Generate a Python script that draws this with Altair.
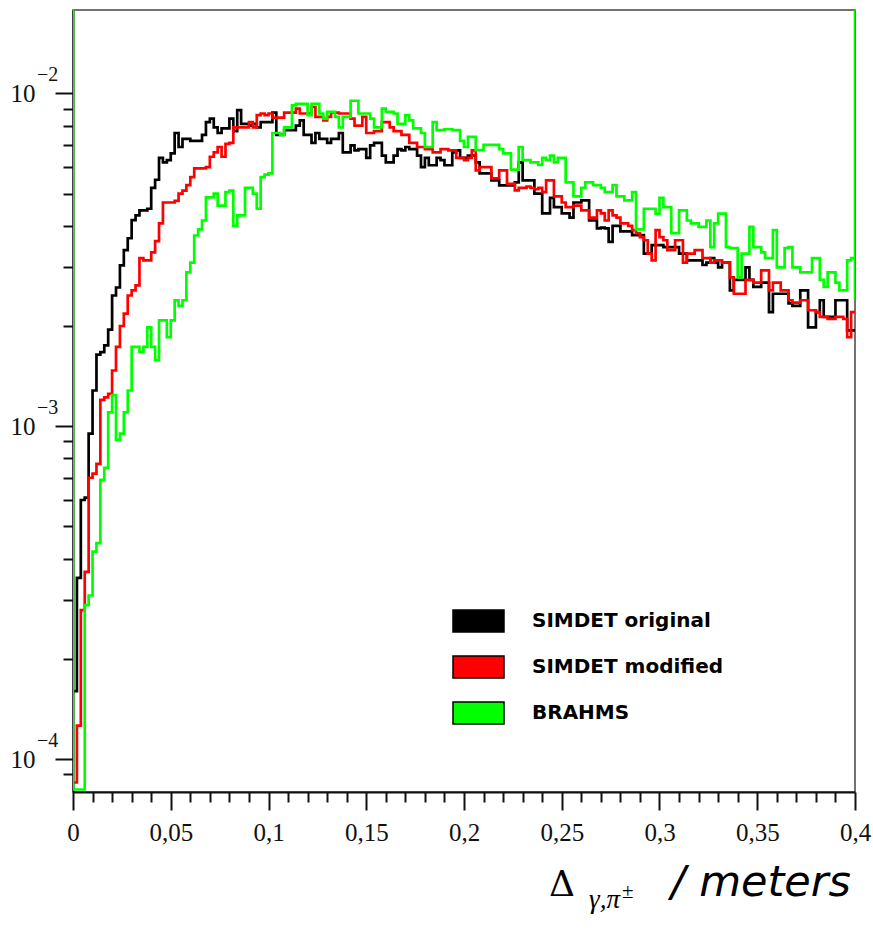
import altair as alt
import pandas as pd

# ---------------- data (values in units of 1e-3) ----------------
SERIES = ["SIMDET original", "SIMDET modified", "BRAHMS"]
COLORS = ["#000000", "#ff0000", "#00ff00"]

BIN_WIDTH = 0.002
X_MAX = 0.4
Y_MIN = 7.96e-5
Y_MAX = 1.78e-2

BLACK = [
    0.16, 0.35, 0.60, 0.61, 0.95, 1.28, 1.64, 1.67, 1.75, 1.95,
    2.47, 2.61, 3.04, 3.38, 3.67, 4.16, 4.30, 4.45, 4.45, 4.50,
    5.20, 5.50, 6.40, 6.20, 6.30, 6.60, 7.60, 6.90, 7.30, 7.30,
    7.20, 7.20, 7.20, 7.50, 8.20, 8.40, 7.90, 7.60, 7.85, 7.85,
    8.40, 7.70, 8.90, 8.10, 8.10, 8.00, 8.10, 7.90, 8.20, 8.20,
    8.20, 8.75, 7.50, 7.50, 7.75, 7.75, 7.75, 8.00, 8.30, 7.50,
    7.50, 7.10, 7.60, 7.30, 7.30, 7.10, 7.30, 7.30, 7.60, 6.65,
    6.65, 6.98, 6.74, 6.80, 6.80, 6.40, 6.98, 7.10, 7.10, 6.50,
    6.20, 6.20, 6.50, 6.80, 6.74, 6.90, 6.80, 6.80, 6.50, 6.00,
    6.40, 6.08, 6.08, 6.40, 6.30, 6.08, 6.08, 6.65, 6.74, 6.40,
    6.40, 6.50, 6.50, 6.20, 5.75, 5.75, 5.75, 5.48, 5.48, 5.29,
    5.29, 5.29, 5.29, 5.40, 6.20, 5.48, 5.48, 5.48, 5.00, 5.00,
    4.36, 4.36, 4.85, 4.55, 4.55, 4.36, 4.36, 4.23, 4.70, 4.70,
    4.77, 4.77, 4.15, 4.15, 3.93, 3.95, 3.93, 3.58, 4.00, 4.00,
    3.85, 3.85, 3.85, 3.75, 3.75, 3.75, 3.30, 3.30, 3.50, 3.50,
    3.50, 3.45, 3.45, 3.45, 3.45, 3.30, 3.30, 3.15, 3.15, 3.15,
    3.15, 3.05, 3.10, 3.20, 3.10, 3.00, 3.10, 3.10, 2.56, 2.75,
    2.75, 2.75, 3.00, 2.75, 2.62, 2.62, 2.70, 2.70, 2.20, 2.50,
    2.50, 2.50, 2.50, 2.34, 2.30, 2.30, 2.56, 2.56, 1.98, 1.98,
    2.20, 2.39, 2.13, 2.13, 2.13, 2.39, 2.39, 2.39, 1.94, 1.94,
]

RED = [
    0.085, 0.126, 0.28, 0.365, 0.70, 0.72, 0.77, 1.20, 1.22, 1.25,
    1.47, 1.73, 2.00, 2.18, 2.47, 2.56, 2.65, 3.20, 3.15, 3.15,
    3.33, 3.60, 4.07, 4.70, 4.70, 4.70, 4.75, 5.00, 5.10, 5.30,
    5.60, 5.95, 5.95, 5.95, 6.00, 6.45, 6.65, 6.90, 6.45, 7.05,
    7.10, 7.90, 7.90, 7.90, 7.90, 8.20, 7.90, 8.60, 8.70, 8.60,
    8.70, 8.45, 8.45, 8.45, 8.75, 8.75, 8.75, 9.00, 8.70, 8.70,
    8.70, 9.10, 8.50, 8.50, 8.30, 8.50, 8.75, 8.75, 8.70, 8.70,
    8.70, 8.40, 8.00, 8.00, 8.50, 7.60, 7.60, 7.70, 7.70, 8.20,
    8.20, 7.90, 7.70, 7.70, 7.50, 7.50, 7.10, 7.10, 6.90, 6.90,
    6.80, 6.80, 6.65, 6.65, 6.80, 6.80, 6.74, 6.74, 6.40, 6.40,
    6.30, 6.40, 6.74, 5.87, 6.00, 6.00, 6.00, 5.55, 5.55, 5.87,
    5.87, 5.35, 5.35, 5.11, 5.20, 5.20, 5.25, 5.20, 5.15, 5.20,
    5.05, 5.48, 5.48, 4.90, 4.90, 4.70, 4.55, 4.55, 4.60, 4.60,
    4.45, 4.45, 4.23, 4.23, 4.45, 4.36, 4.15, 4.45, 4.30, 4.23,
    4.07, 4.07, 4.00, 3.88, 3.80, 3.70, 3.62, 3.30, 3.15, 3.88,
    3.70, 3.62, 3.38, 3.38, 3.62, 3.62, 3.10, 3.30, 3.30, 3.38,
    3.38, 3.20, 3.20, 3.10, 3.15, 3.15, 3.10, 3.10, 2.80, 2.50,
    2.50, 2.50, 2.75, 2.75, 2.70, 2.70, 2.94, 2.94, 2.56, 2.70,
    2.70, 2.56, 2.56, 2.39, 2.35, 2.35, 2.39, 2.39, 2.23, 2.23,
    2.20, 2.13, 2.13, 2.10, 2.10, 2.13, 2.13, 2.10, 1.85, 2.20,
]

GREEN = [
    0.081, 0.081, 0.081, 0.29, 0.31, 0.42, 0.445, 0.69, 0.75, 1.10,
    1.24, 0.91, 0.95, 1.10, 1.28, 1.73, 1.73, 1.67, 1.73, 1.98,
    1.73, 1.58, 2.08, 2.08, 1.85, 2.08, 2.39, 2.30, 2.39, 2.90,
    3.10, 3.74, 3.90, 4.15, 4.87, 4.87, 5.00, 4.60, 4.60, 5.05,
    5.10, 4.00, 4.30, 4.30, 5.20, 5.20, 5.00, 4.50, 5.60, 5.70,
    5.75, 7.60, 7.60, 7.50, 7.90, 7.90, 9.20, 9.30, 9.30, 9.30,
    8.60, 9.30, 9.30, 8.70, 8.40, 8.80, 8.80, 8.50, 7.90, 8.50,
    8.50, 9.50, 9.50, 8.70, 8.70, 8.70, 8.40, 7.90, 7.90, 9.00,
    8.80, 8.80, 8.70, 8.10, 8.10, 8.60, 8.30, 7.85, 7.85, 7.60,
    6.90, 6.90, 8.20, 7.75, 7.75, 7.80, 7.80, 7.75, 7.75, 7.20,
    6.90, 7.40, 7.40, 6.75, 6.75, 7.00, 7.00, 7.00, 7.00, 6.80,
    6.60, 6.60, 5.90, 5.90, 6.90, 6.30, 6.30, 6.20, 6.20, 6.10,
    6.40, 6.30, 6.50, 6.20, 6.40, 6.40, 5.40, 5.40, 4.90, 4.90,
    5.20, 5.40, 5.40, 5.30, 5.30, 5.20, 5.05, 5.05, 5.30, 4.90,
    4.90, 4.77, 4.77, 5.05, 3.90, 3.90, 4.50, 4.50, 4.50, 4.35,
    4.85, 4.55, 4.55, 3.80, 3.80, 4.45, 4.45, 4.15, 4.07, 4.07,
    3.97, 3.97, 4.15, 3.45, 4.07, 4.35, 4.35, 3.45, 3.43, 3.43,
    2.80, 3.30, 3.30, 3.97, 3.45, 3.45, 3.33, 3.20, 3.20, 3.88,
    3.00, 3.00, 3.43, 3.45, 3.00, 3.00, 2.90, 2.90, 2.90, 3.20,
    3.20, 2.75, 2.62, 2.90, 2.90, 2.70, 2.56, 2.56, 3.15, 3.20,
]
GREEN_RIGHT_EDGE = 2.4  # e-3, last drop of the green outline at x = 0.4

Y_TICKS = [9e-5,
           1e-4, 2e-4, 3e-4, 4e-4, 5e-4, 6e-4, 7e-4, 8e-4, 9e-4,
           1e-3, 2e-3, 3e-3, 4e-3, 5e-3, 6e-3, 7e-3, 8e-3, 9e-3,
           1e-2]
Y_DECADES = [1e-4, 1e-3, 1e-2]
Y_EXPONENTS = ["\u22124", "\u22123", "\u22122"]
X_TICKS = [round(i * 0.01, 2) for i in range(41)]


# ---------------- build table ----------------
def outline(name, vals, lead=None, tail=()):
    pts = []
    if lead is not None:
        pts.append((0.0, lead))
    for i, v in enumerate(vals):
        pts.append((round(i * BIN_WIDTH, 3), v * 1e-3))
    pts.append((X_MAX, vals[-1] * 1e-3))
    for t in tail:
        pts.append((X_MAX, t))
    return [dict(series=name, x=x, y=y, idx=k) for k, (x, y) in enumerate(pts)]


rows = []
rows += outline(SERIES[0], BLACK)
rows += outline(SERIES[1], RED)
rows += outline(SERIES[2], GREEN, lead=Y_MAX, tail=(GREEN_RIGHT_EDGE * 1e-3, Y_MAX))
df = pd.DataFrame(rows)

# ---------------- scales & axes ----------------
xscale = alt.Scale(domain=[0, X_MAX], nice=False, zero=False)
yscale = alt.Scale(type="log", domain=[Y_MIN, Y_MAX], nice=False)

X_MAJOR = "abs(datum.value*20 - round(datum.value*20)) < 0.000001"
Y_MAJOR = "datum.value == 0.0001 || datum.value == 0.001 || datum.value == 0.01"

xaxis = alt.Axis(
    values=X_TICKS, title=None, grid=False,
    labelExpr=f"{X_MAJOR} ? replace(format(datum.value, '.2~f'), '.', ',') : ''",
    labelFont="Liberation Serif", labelFontSize=25, labelColor="#111111",
    labelPadding=10, labelFlush=False, labelOverlap=False,
    domainColor="#111111", domainWidth=2,
    tickColor="#111111", tickWidth=2,
    tickSize={"condition": {"test": X_MAJOR, "value": 18}, "value": 10},
)
yaxis = alt.Axis(
    values=Y_TICKS, title=None, grid=False,
    labelExpr=f"{Y_MAJOR} ? '10' : ''",
    labelFont="Liberation Serif", labelFontSize=25, labelColor="#111111",
    labelPadding=20, labelOverlap=False, labelBaseline="middle",
    domainColor="#111111", domainWidth=2,
    tickColor="#111111", tickWidth=2,
    tickSize={"condition": {"test": Y_MAJOR, "value": 18}, "value": 10},
)

color_scale = alt.Scale(domain=SERIES, range=COLORS)


def line_layer(name):
    return (
        alt.Chart(df)
        .transform_filter(alt.datum.series == name)
        .mark_line(interpolate="step-after", strokeWidth=2.7, clip=True)
        .encode(
            x=alt.X("x:Q", scale=xscale, axis=xaxis),
            y=alt.Y("y:Q", scale=yscale, axis=yaxis),
            color=alt.Color("series:N", scale=color_scale, legend=None),
            order=alt.Order("idx:Q"),
        )
    )


lines = [line_layer(s) for s in SERIES]

# exponents of the decade labels
exp_df = pd.DataFrame({"y": Y_DECADES, "label": Y_EXPONENTS})
exponents = (
    alt.Chart(exp_df)
    .mark_text(align="left", baseline="alphabetic", font="Liberation Serif",
               fontSize=20, dy=-12, color="#111111")
    .encode(y=alt.Y("y:Q", scale=yscale, axis=yaxis), x=alt.value(-36), text="label:N")
)

# legend: filled rectangles with black outline, bold labels
legend_layer = (
    alt.Chart(pd.DataFrame({"entry": SERIES}))
    .mark_point(filled=True, size=0, opacity=1)
    .encode(
        fill=alt.Fill(
            "entry:N",
            scale=alt.Scale(domain=SERIES, range=COLORS),
            legend=alt.Legend(
                title=None, orient="none", legendX=379, legendY=599,
                symbolType="M-1,-0.43L1,-0.43L1,0.43L-1,0.43Z",
                symbolSize=2601, symbolStrokeColor="black", symbolStrokeWidth=1.5,
                symbolOpacity=1,
                labelFont="DejaVu Sans", labelFontWeight="bold", labelFontSize=20,
                labelColor="black", labelOffset=27, labelLimit=400,
                clipHeight=24, rowPadding=22, padding=0,
            ),
        ),
        x=alt.value(0), y=alt.value(0),
    )
)

# x-axis title pieces:  Δ_{γ,π±} / meters
one = pd.DataFrame({"k": [0]})
t_delta = alt.Chart(one).mark_text(
    text="\u0394", align="left", baseline="alphabetic",
    font="DejaVu Serif", fontSize=36, color="black"
).encode(x=alt.value(476), y=alt.value(886))
t_sub = alt.Chart(one).mark_text(
    text="\u03b3,\u03c0", align="left", baseline="alphabetic",
    font="Liberation Serif", fontStyle="italic", fontSize=27, color="black"
).encode(x=alt.value(516), y=alt.value(898))
t_pm = alt.Chart(one).mark_text(
    text="\u00b1", align="left", baseline="alphabetic",
    font="Liberation Serif", fontSize=21, color="black"
).encode(x=alt.value(549), y=alt.value(888))
t_unit = alt.Chart(one).mark_text(
    text="/ meters", align="left", baseline="alphabetic",
    font="DejaVu Sans", fontStyle="italic", fontSize=43, color="black"
).encode(x=alt.value(598), y=alt.value(886))

chart = (
    alt.layer(*lines, exponents, legend_layer, t_delta, t_sub, t_pm, t_unit)
    .resolve_scale(fill="independent", color="independent")
    .properties(
        width=782, height=782,
        autosize=alt.AutoSizeParams(type="none"),
        padding={"left": 73, "top": 10, "right": 18, "bottom": 148},
        background="white",
    )
    .configure_view(stroke="#444444", strokeWidth=1.5)
)

chart.save("out.html", embed_options={"renderer": "svg", "actions": False})
